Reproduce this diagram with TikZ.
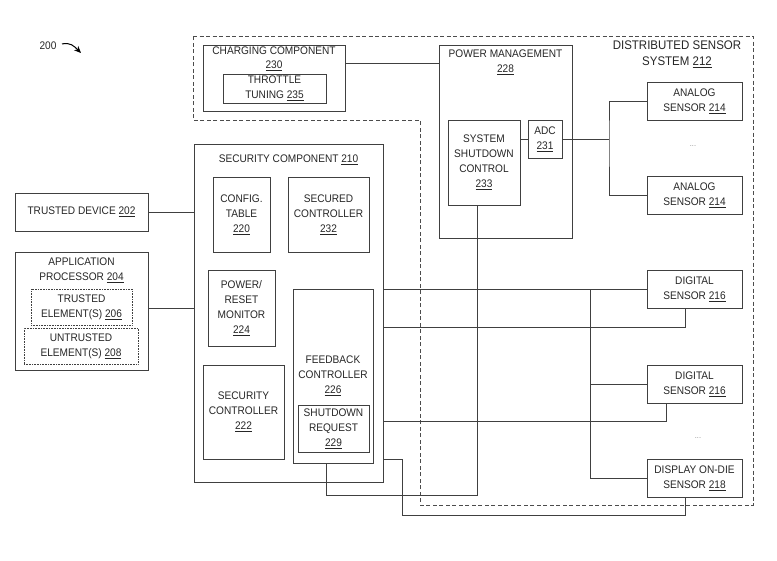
\documentclass[tikz,border=0pt]{standalone}
\usepackage{fontspec}
\setmainfont{Liberation Sans}[FakeStretch=0.92]
\usetikzlibrary{calc,arrows.meta}
\newcommand{\partno}[1]{\underline{#1}}
\tikzset{
  blk/.style={draw=black!75, line width=0.6pt, align=center, inner sep=0pt,
    font=\fontsize{11}{15}\selectfont, text=black!85},
  lbl/.style={align=center, inner sep=0pt, font=\fontsize{11}{15}\selectfont, text=black!85},
  wire/.style={draw=black!75, line width=0.6pt},
}
\begin{document}
\begin{tikzpicture}[x=1pt, y=-1pt]
			%%%%% START %%%%%
			\useasboundingbox (0,0) rectangle (777,560);
			
			\node[lbl] (fig) at (48,46) {200};
			\draw[line width=1pt, -{Stealth[length=7pt,width=6pt]}] (62,44) .. controls (70,42) and (74,46) .. (81,53);
			
			% distributed sensor system outline
			\draw[black!70, line width=0.6pt, dash pattern=on 4pt off 2.5pt] (193,36) -- (753,36) -- (753,505) -- (420,505) -- (420,120) -- (193,120) -- cycle;
			\node[lbl, font=\fontsize{12.5}{16}\selectfont] (dsstitle) at (677,54) {DISTRIBUTED SENSOR\\SYSTEM \partno{212}};
			
			% charging
			\node[blk, minimum width=142, minimum height=66] (charging) at (274,78) {};
			\node[lbl, font=\fontsize{11}{14}\selectfont] (chargingtitle) at (274,58.5) {CHARGING COMPONENT\\\partno{230}};
			\node[blk, minimum width=103, minimum height=29] (throttle) at (274.5,88.5) {THROTTLE\\TUNING \partno{235}};
			
			% power management
			\node[blk, minimum width=133, minimum height=193] (power) at (505.5,141.5) {};
			\node[lbl] (powertitle) at (505.5,62) {POWER MANAGEMENT\\\partno{228}};
			\node[blk, minimum width=72, minimum height=85] (ssc) at (484,162.5) {SYSTEM\\SHUTDOWN\\CONTROL\\\partno{233}};
			\node[blk, minimum width=34, minimum height=38] (adc) at (545,139) {ADC\\\partno{231}};
			
			% sensors
			\node[blk, minimum width=95, minimum height=38] (analogA) at (694.5,101) {ANALOG\\SENSOR \partno{214}};
			\node[blk, minimum width=95, minimum height=38] (analogB) at (694.5,195.5) {ANALOG\\SENSOR \partno{214}};
			\node[lbl, text=black!45, font=\footnotesize] (analogdots) at (693,146) {...};
			\node[blk, minimum width=95, minimum height=38] (digitalA) at (694.5,289) {DIGITAL\\SENSOR \partno{216}};
			\node[blk, minimum width=95, minimum height=38] (digitalB) at (694.5,384) {DIGITAL\\SENSOR \partno{216}};
			\node[lbl, text=black!45, font=\footnotesize] (digitaldots) at (698,438) {...};
			\node[blk, minimum width=95, minimum height=38] (display) at (694.5,478) {DISPLAY ON-DIE\\SENSOR \partno{218}};
			
			% security component
			\node[blk, minimum width=189, minimum height=338] (security) at (288.5,313) {};
			\node[lbl] (securitytitle) at (288.5,160) {SECURITY COMPONENT \partno{210}};
			\node[blk, minimum width=57, minimum height=75] (config) at (241.5,214.5) {CONFIG.\\TABLE\\\partno{220}};
			\node[blk, minimum width=81, minimum height=75] (secured) at (328.5,214.5) {SECURED\\CONTROLLER\\\partno{232}};
			\node[blk, minimum width=67, minimum height=76] (reset) at (241.5,308) {POWER/\\RESET\\MONITOR\\\partno{224}};
			\node[blk, minimum width=81, minimum height=94] (secctrl) at (243.5,412) {SECURITY\\CONTROLLER\\\partno{222}};
			\node[blk, minimum width=80, minimum height=174] (feedback) at (333,376) {FEEDBACK\\CONTROLLER\\\partno{226}};
			\node[blk, minimum width=71, minimum height=47] (shutdown) at (333.5,428.5) {SHUTDOWN\\REQUEST\\\partno{229}};
			
			% trusted device and application processor
			\node[blk, minimum width=133, minimum height=38] (trusted) at (81.5,212) {TRUSTED DEVICE \partno{202}};
			\node[blk, minimum width=133, minimum height=118] (app) at (81.5,311) {};
			\node[lbl] (apptitle) at (81.5,270.5) {APPLICATION\\PROCESSOR \partno{204}};
			\node[blk, densely dotted, minimum width=101, minimum height=36] (trustedel) at (81.5,307) {TRUSTED\\ELEMENT(S) \partno{206}};
			\node[blk, densely dotted, minimum width=114, minimum height=36] (untrustedel) at (81,346) {UNTRUSTED\\ELEMENT(S) \partno{208}};
			
			% connections
			\draw[wire] (charging.east |- 0,63) -- (power.west |- 0,63);
			\draw[wire] (adc.west) -- (adc.west -| ssc.east);
			\coordinate (asplit) at (609,139);
			\draw[wire] (adc.east) -- (asplit);
			\draw[wire] (analogA.west) -| (asplit) |- (analogB.west);
			
			\draw[wire] (trusted.east) -- (trusted.east -| security.west);
			\draw[wire] (app.east |- 0,308) -- (security.west |- 0,308);
			
			\coordinate (dbus) at (590,289);
			\draw[wire] (digitalA.west -| security.east) -- (digitalA.west);
			\draw[wire] (dbus) |- (display.west);
			\draw[wire] (dbus |- digitalB.west) -- (digitalB.west);
			\draw[wire] (security.east |- 0,327) -| ([xshift=-9.5pt]digitalA.south);
			\draw[wire] (security.east |- 0,421) -| ([xshift=-28.5pt]digitalB.south);
			
			\draw[wire] ([xshift=-7pt]ssc.south) |- ([xshift=-7pt]feedback.south |- 0,495) -- ([xshift=-7pt]feedback.south);
			\draw[wire] ([xshift=-9.5pt]display.south) |- (402,515) |- (security.east |- 0,459);
			%%%%% END %%%%%
\end{tikzpicture}
\end{document}
